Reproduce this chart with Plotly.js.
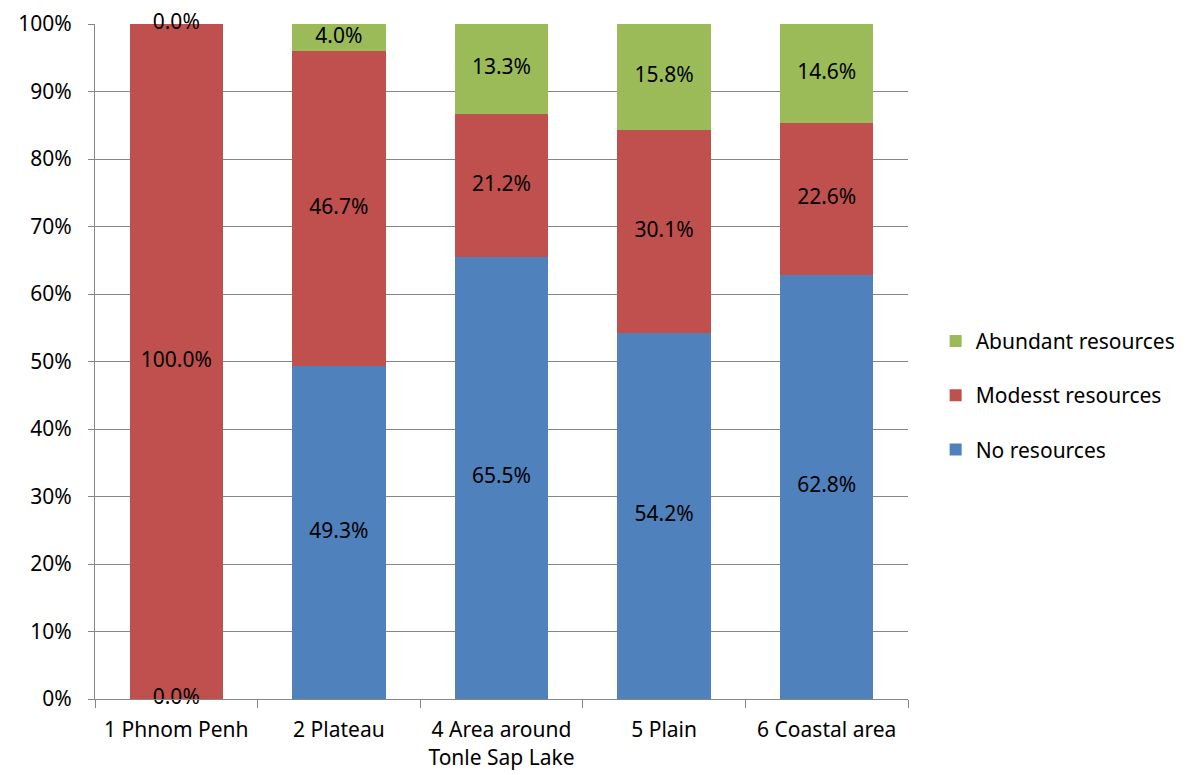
<!DOCTYPE html>
<html><head><meta charset="utf-8">
<script src="https://cdn.plot.ly/plotly-3.0.1.min.js"></script>
<style>body{margin:0;background:#fff}#c{width:1195px;height:775px}</style>
</head><body><div id="c"></div>
<script>
const categories = ["1 Phnom Penh", "2 Plateau", "4 Area around<br>Tonle Sap Lake", "5 Plain", "6 Coastal area"];
const noResources = [0.0, 49.3, 65.5, 54.2, 62.8];
const modestResources = [100.0, 46.7, 21.2, 30.1, 22.6];
const abundantResources = [0.0, 4.0, 13.3, 15.8, 14.6];
const yTicks = [0,10,20,30,40,50,60,70,80,90,100];
const yTickLabels = yTicks.map(v => v + "%");

const FONT = "Noto Sans, sans-serif";
const FS = 21;
const colors = {no: "#4F81BD", modest: "#C0504D", abundant: "#9BBB59"};

function bar(name, vals, color, grp, rank) {
  return {type: "bar", name: name, x: categories, y: vals, marker: {color: color},
          legendgroup: grp, legendrank: rank, hoverinfo: "skip"};
}
function labels(vals, base) {
  return {type: "scatter", mode: "text", x: categories,
          y: vals.map((v, i) => base[i] + v / 2),
          text: vals.map(v => v.toFixed(1) + "%"),
          textfont: {family: FONT, size: FS, color: "#000"},
          showlegend: false, hoverinfo: "skip", cliponaxis: false};
}
const zeros = categories.map(() => 0);
const base2 = noResources.slice();
const base3 = noResources.map((v, i) => v + modestResources[i]);

const data = [
  bar("No resources", noResources, colors.no, "a", 3),
  bar("Modesst resources", modestResources, colors.modest, "b", 2),
  bar("Abundant resources", abundantResources, colors.abundant, "c", 1),
  labels(noResources, zeros),
  labels(modestResources, base2),
  labels(abundantResources, base3)
];

const layout = {
  width: 1195, height: 775,
  margin: {l: 95, r: 287, t: 24, b: 76},
  barmode: "stack", bargap: 0.425,
  paper_bgcolor: "#fff", plot_bgcolor: "#fff",
  font: {family: FONT, size: FS, color: "#000"},
  showlegend: true,
  legend: {x: 1.034, xanchor: "left", y: 0.45, yanchor: "middle",
           traceorder: "grouped", tracegroupgap: 24,
           font: {family: FONT, size: FS, color: "#000"}},
  xaxis: {type: "category", tickson: "boundaries", ticks: "outside", ticklen: 8,
          tickcolor: "#868686", showline: true, linecolor: "#868686", linewidth: 1,
          showgrid: false, ticklabelstandoff: 12, tickfont: {family: FONT, size: FS}},
  yaxis: {range: [0, 100], tickvals: yTicks, ticktext: yTickLabels, ticks: "outside",
          ticklen: 6, tickcolor: "#868686", showline: true, linecolor: "#868686",
          showgrid: true, gridcolor: "#868686", gridwidth: 1, zeroline: false,
          ticklabelstandoff: 12, tickfont: {family: FONT, size: FS}}
};
Plotly.newPlot("c", data, layout, {displayModeBar: false, staticPlot: true});
</script></body></html>
